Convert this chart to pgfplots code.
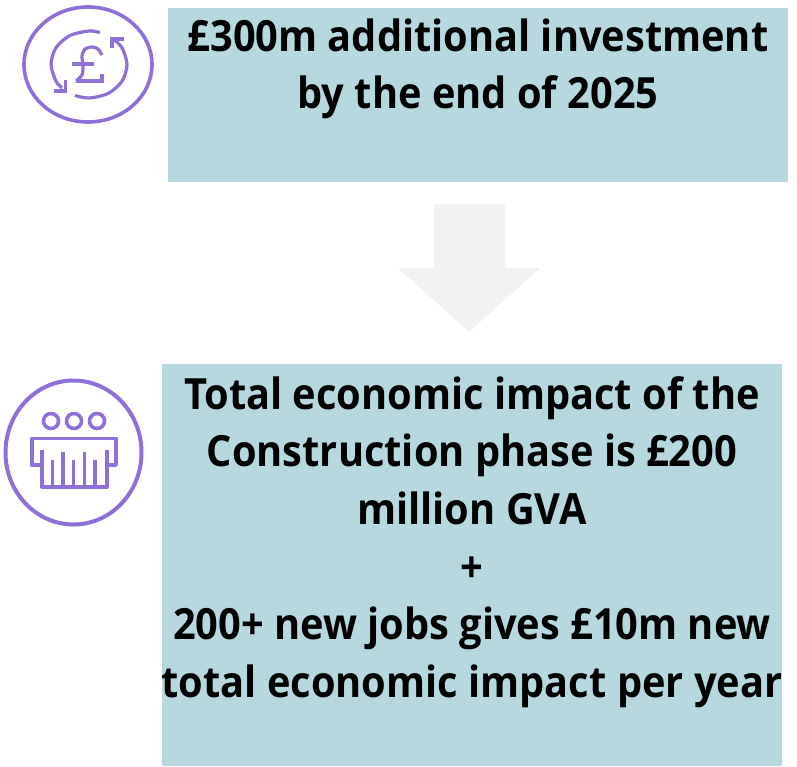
\documentclass[border=0pt]{standalone}
\usepackage{pgfplots}
\pgfplotsset{compat=1.18}
\usepackage{fontspec}
\setmainfont{Open Sans}[FakeStretch=0.925]
\definecolor{boxblue}{RGB}{184,216,224}
\definecolor{arrowgrey}{RGB}{242,242,242}
\definecolor{iconpurple}{RGB}{142,112,216}
\begin{document}
\begin{tikzpicture}
\begin{axis}[
  hide axis,
  scale only axis,
  width=797pt, height=766pt,
  xmin=0, xmax=797, ymin=0, ymax=766,
  y dir=reverse,
  clip=false
]
  % keeps the page at the full axis size
  \path (axis cs:0,0) rectangle (axis cs:797,766);

  % boxes and arrow
  \addplot[fill=boxblue, draw=none] coordinates {(168,8)(788,8)(788,182)(168,182)} --cycle;
  \addplot[fill=boxblue, draw=none] coordinates {(162,364)(782,364)(782,766)(162,766)} --cycle;
  \addplot[fill=arrowgrey, draw=none] coordinates {(434,204)(505,204)(505,268)(540,268)(469,332)(398,268)(434,268)} --cycle;

  % pound icon
  \draw[iconpurple, line width=3.6pt] (axis cs:88,64.5) ellipse [x radius=64, y radius=57.5];
  \addplot[iconpurple, line width=3.2pt, smooth, no marks] coordinates {(100,32.5)(89,31)(70,35.5)(56,47.7)(51,64.5)(56,81.2)(62,88)};
  \addplot[iconpurple, line width=3.2pt, smooth, no marks] coordinates {(75,95.5)(89,98)(108,93.5)(122,81.2)(127,64.5)(122,47.7)(113,38.8)};
  \addplot[iconpurple, line width=3.6pt, no marks] coordinates {(54,91)(65.5,91)(65.5,80)};
  \addplot[iconpurple, line width=3.6pt, no marks] coordinates {(124,39)(112,39)(112,48)};
  \addplot[iconpurple, line width=3.2pt, smooth, no marks] coordinates {(102,55)(98,49)(92,47)(85,49)(82,56)(83,66)(82,75)(76,81)};
  \addplot[iconpurple, line width=3.2pt, no marks] coordinates {(76,81)(102,81)(102,74)};
  \addplot[iconpurple, line width=3.2pt, no marks] coordinates {(72,64)(94,64)};

  % workers icon
  \draw[iconpurple, line width=4pt] (axis cs:73.5,452.5) ellipse [x radius=68, y radius=72];
  \draw[iconpurple, line width=3.6pt] (axis cs:51,421) circle [radius=7.5];
  \draw[iconpurple, line width=3.6pt] (axis cs:74,421) circle [radius=7.5];
  \draw[iconpurple, line width=3.6pt] (axis cs:97,421) circle [radius=7.5];
  \addplot[iconpurple, line width=3.6pt, no marks, line join=round] coordinates {(41.7,465)(31.7,465)(31.7,438.3)(116,438.3)(116,465)(106.7,465)};
  \addplot[iconpurple, line width=3.6pt, no marks, line join=round] coordinates {(41.7,450)(41.7,486.7)(106.7,486.7)(106.7,450)};
  \addplot[iconpurple, line width=3.6pt, no marks] coordinates {(52.3,460)(52.3,486.7)};
  \addplot[iconpurple, line width=3.6pt, no marks] coordinates {(62.7,451.7)(62.7,486.7)};
  \addplot[iconpurple, line width=3.6pt, no marks] coordinates {(73.3,460)(73.3,486.7)};
  \addplot[iconpurple, line width=3.6pt, no marks] coordinates {(84.3,451.7)(84.3,486.7)};
  \addplot[iconpurple, line width=3.6pt, no marks] coordinates {(95,460)(95,486.7)};

  % text
  \node[align=center, font=\fontsize{43}{57.5}\selectfont\bfseries, anchor=center] at (axis cs:478,69) {£300m additional investment\\by the end of 2025};
  \node[align=center, font=\fontsize{43}{57.7}\selectfont\bfseries, anchor=center] at (axis cs:472,542) {Total economic impact of the\\Construction phase is £200\\million GVA\\+\\200+ new jobs gives £10m new\\total economic impact per year};
\end{axis}
\end{tikzpicture}
\end{document}
